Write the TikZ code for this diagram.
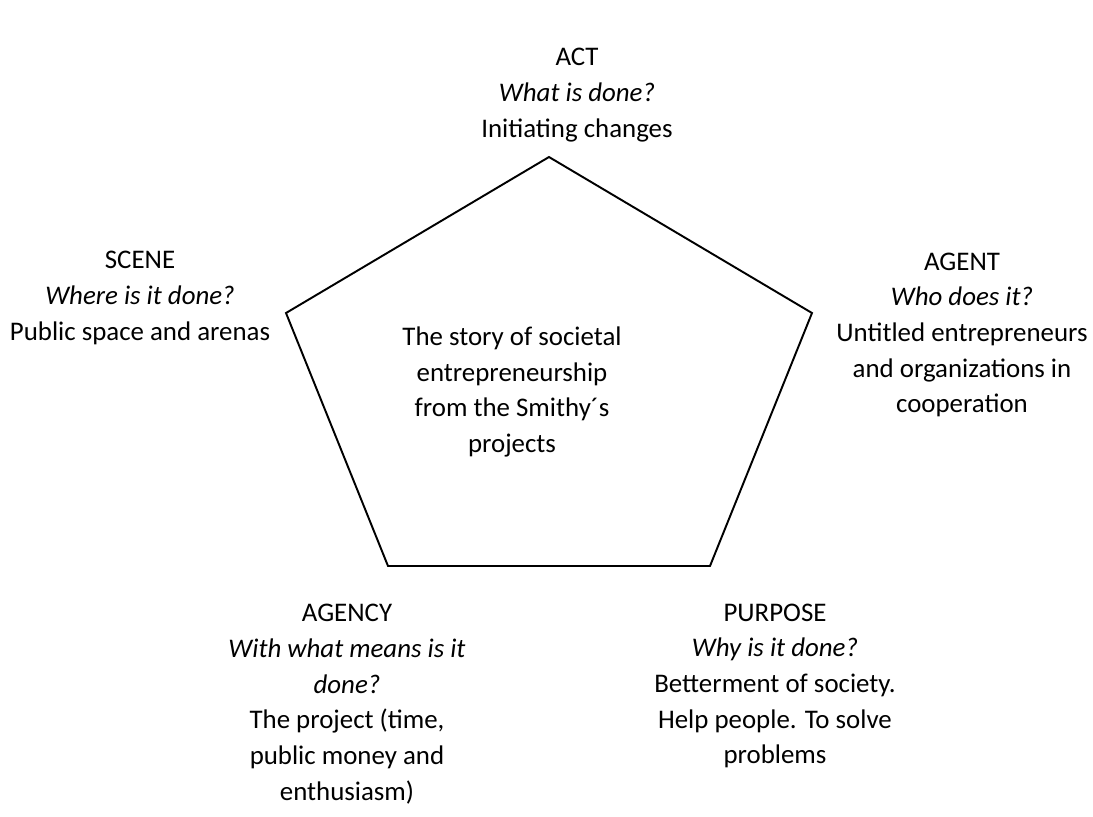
\documentclass[tikz,border=0pt]{standalone}
\usepackage{fontspec}
\setmainfont{Carlito}
\usetikzlibrary{positioning}

\begin{document}
\begin{tikzpicture}[x=0.02cm,y=-0.02cm,
    lbl/.style={align=center,inner sep=0pt,font=\fontsize{15.3}{20.3}\selectfont},
    edge/.style={line width=1.1pt,line join=miter}]
  \useasboundingbox (0,0) rectangle (1093,816);
  % corners of the pentagon
  \coordinate (act) at (549,157);
  \coordinate (agent) at (812,313);
  \coordinate (purpose) at (710,566);
  \coordinate (agency) at (388,566);
  \coordinate (scene) at (286,313);
  \draw[edge] (act) -- (agent) -- (purpose) -- (agency) -- (scene) -- cycle;
  % the five labels round it
  \node[lbl] (actlbl) at (577,95) {ACT\\\textit{What is done?}\\Initiating changes};
  \node[lbl] (scenelbl) at (140,298) {SCENE\\\textit{Where is it done?}\\Public space and arenas};
  \node[lbl] (agentlbl) at (962,335) {AGENT\\\textit{Who does it?}\\Untitled entrepreneurs\\and organizations in\\cooperation};
  \node[lbl] (agencylbl) at (347,704) {AGENCY\\\textit{With what means is it}\\\textit{done?}\\The project (time,\\public money and\\enthusiasm)};
  \node[lbl] (purposelbl) at (775,686) {PURPOSE\\\textit{Why is it done?}\\Betterment of society.\\Help people. To solve\\problems};
  \node[lbl] (story) at (512,392) {The story of societal\\entrepreneurship\\from the Smithy´s\\projects};
\end{tikzpicture}
\end{document}
